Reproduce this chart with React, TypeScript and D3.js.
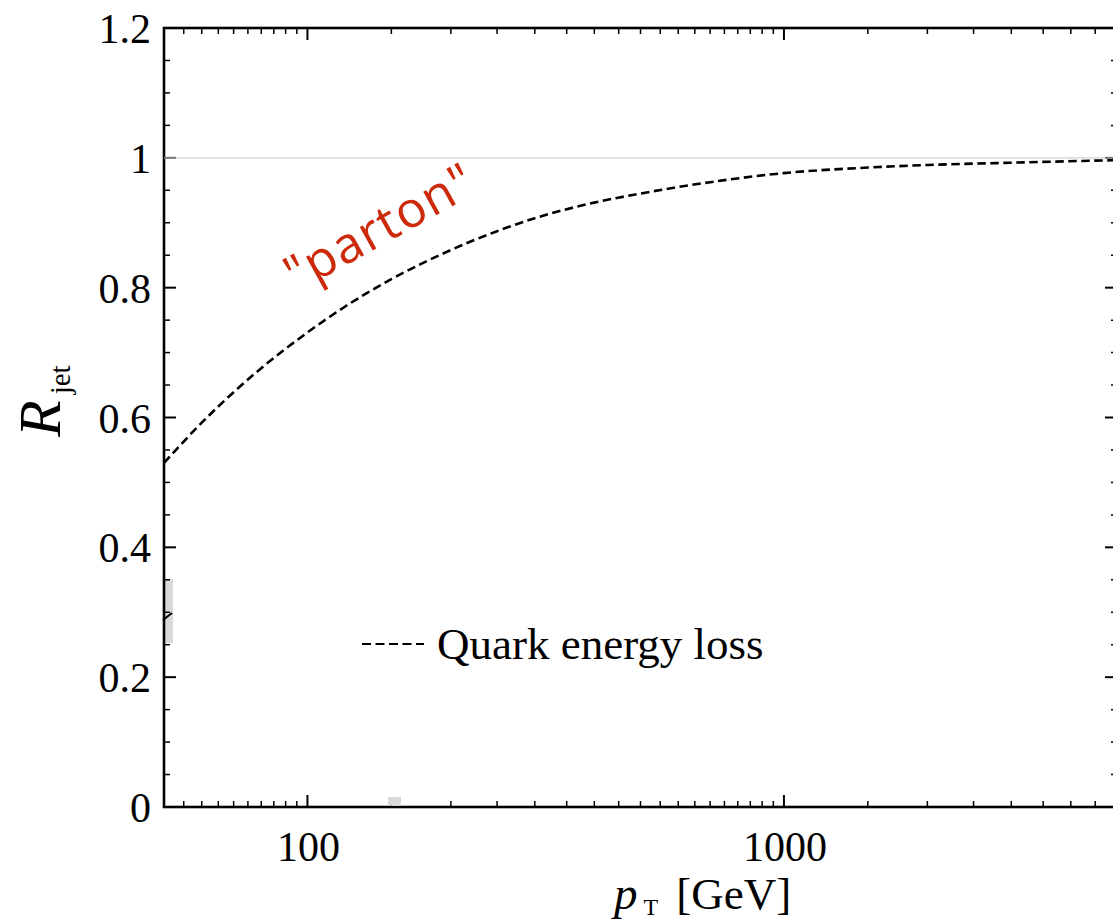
import React from "react";
import * as d3 from "d3";

// data
const ptValues = [50, 60, 70, 80, 100, 120, 150, 200, 250, 300, 400, 500, 700, 1000, 1500, 2000, 3000, 5000];
const rjetValues = [0.530, 0.592, 0.639, 0.676, 0.731, 0.771, 0.813, 0.858, 0.887, 0.907, 0.931, 0.945, 0.9625, 0.9765, 0.985, 0.989, 0.9925, 0.9965];

const xMajorTicks = [100, 1000];
const xTickLabels = ["100", "1000"];
const yMajorTicks = [0, 0.2, 0.4, 0.6, 0.8, 1, 1.2];
const yTickLabels = ["0", "0.2", "0.4", "0.6", "0.8", "1", "1.2"];
const legendLabel = "Quark energy loss";
const annotation = "\"parton\"";

const W = 1113;
const H = 919;
const left = 164;
const right = 1117;
const top = 28;
const bottom = 807;

export default function App() {
  const x = d3.scaleLog().domain([50, 5000]).range([left, right]);
  const y = d3.scaleLinear().domain([0, 1.2]).range([bottom, top]);

  const xMinor = [
    ...d3.range(55, 100, 5),
    ...d3.range(150, 1000, 50),
    ...d3.range(1500, 5000, 500),
  ];
  const yMinor = d3.range(0, 24).map((i) => i * 0.05).filter((v) => Math.round(v * 100) % 20 !== 0);

  const pts = ptValues.map((p, i) => [p, rjetValues[i]] as [number, number]);
  const line = d3
    .line<[number, number]>()
    .x((d) => x(d[0]))
    .y((d) => y(d[1]))
    .curve(d3.curveMonotoneX);

  const serif = "'Liberation Serif', 'Times New Roman', serif";

  return (
    <svg width={W} height={H} style={{ position: "absolute", left: 0, top: 0, background: "#fff" }}>
      <defs>
        <clipPath id="plot">
          <rect x={left} y={top} width={right - left} height={bottom - top} />
        </clipPath>
      </defs>
      <rect x={0} y={0} width={W} height={H} fill="#fff" />

      {/* reference line at 1 */}
      <line x1={left} x2={right} y1={y(1)} y2={y(1)} stroke="#d2d2d2" strokeWidth={1.3} />

      {/* curve */}
      <path
        d={line(pts) || ""}
        fill="none"
        stroke="#000"
        strokeWidth={2.6}
        strokeDasharray="8.5,4.5"
        clipPath="url(#plot)"
      />

      {/* artifacts */}
      <rect x={163} y={579} width={10} height={64} fill="#d9d9d9" />
      <line x1={163} y1={620} x2={172} y2={613} stroke="#000" strokeWidth={2} />

      {/* frame */}
      <rect x={left} y={top} width={right - left} height={bottom - top} fill="none" stroke="#000" strokeWidth={2.6} />

      {/* x ticks bottom & top */}
      {xMinor.map((t) => (
        <g key={"xm" + t}>
          <line x1={x(t)} x2={x(t)} y1={bottom} y2={bottom - 6} stroke="#000" strokeWidth={1.5} />
          <line x1={x(t)} x2={x(t)} y1={top} y2={top + 6} stroke="#000" strokeWidth={1.5} />
        </g>
      ))}
      {xMajorTicks.map((t, i) => (
        <g key={"xM" + t}>
          <line x1={x(t)} x2={x(t)} y1={bottom} y2={bottom - 12} stroke="#000" strokeWidth={2} />
          <line x1={x(t)} x2={x(t)} y1={top} y2={top + 12} stroke="#000" strokeWidth={2} />
          <text x={x(t) + 1} y={861} textAnchor="middle" fontFamily={serif} fontSize={42} fill="#000">
            {xTickLabels[i]}
          </text>
        </g>
      ))}
      {/* cover box at 150 */}
      <rect x={388} y={797} width={13} height={8.7} fill="#d9d9d9" />

      {/* y ticks */}
      {yMinor.map((t) => (
        <g key={"ym" + t}>
          <line x1={left} x2={left + 6} y1={y(t)} y2={y(t)} stroke="#000" strokeWidth={1.5} />
          <line x1={right} x2={right - 6} y1={y(t)} y2={y(t)} stroke="#000" strokeWidth={1.5} />
        </g>
      ))}
      {yMajorTicks.map((t, i) => (
        <g key={"yM" + t}>
          <line x1={left} x2={left + 12} y1={y(t)} y2={y(t)} stroke={t === 1 ? "#777" : "#000"} strokeWidth={2} />
          <line x1={right} x2={right - 12} y1={y(t)} y2={y(t)} stroke={t === 1 ? "#777" : "#000"} strokeWidth={2} />
          <text x={151} y={y(t) + 15} textAnchor="end" fontFamily={serif} fontSize={42} fill="#000">
            {yTickLabels[i]}
          </text>
        </g>
      ))}

      {/* axis titles */}
      <text x={614} y={909} fontFamily={serif} fontSize={44} fill="#000">
        <tspan fontStyle="italic" fontSize={47}>p</tspan>
        <tspan fontSize={24} dy={6} dx={6}>T</tspan>
        <tspan dy={-6} dx={18} fontSize={45}>[GeV]</tspan>
      </text>
      <text transform="translate(60,437) rotate(-90)" fontFamily={serif} fill="#000">
        <tspan fontStyle="italic" fontSize={60}>R</tspan>
        <tspan fontSize={29} dx={6} dy={10}>jet</tspan>
      </text>

      {/* legend */}
      <line x1={362} x2={424} y1={644} y2={644} stroke="#000" strokeWidth={2} strokeDasharray="9,4.5" />
      <text x={437} y={659} fontFamily={serif} fontSize={45} fill="#000">
        {legendLabel}
      </text>

      {/* annotation */}
      <text
        transform="translate(388,242) rotate(-29)"
        textAnchor="middle"
        fontFamily="'Open Sans', 'Noto Sans', sans-serif"
        fontSize={50}
        letterSpacing={1.5}
        fill="#cc2a0a"
      >
        {annotation}
      </text>
    </svg>
  );
}
